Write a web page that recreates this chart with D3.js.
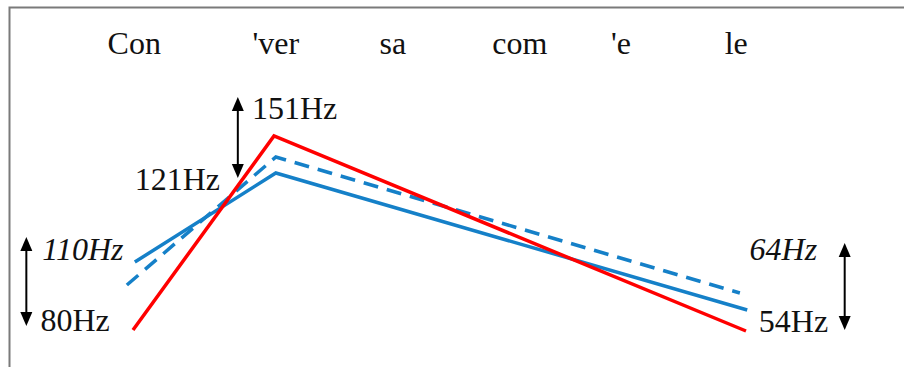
<!DOCTYPE html>
<html>
<head>
<meta charset="utf-8">
<script src="https://cdn.jsdelivr.net/npm/d3@7"></script>
<style>
  html, body { margin: 0; padding: 0; background: #fff; }
  svg { display: block; }
  text { font-family: "Liberation Serif", "Times New Roman", serif; fill: #111; }
</style>
</head>
<body>
<svg id="chart" width="904" height="367"></svg>
<script>
// Syllables of "Con'versa com'e le" and their time position (normalised 0–100)
const syllables = ["Con", "'ver", "sa", "com", "'e", "le"];
const syllableTimes = [0.2, 23.3, 42.4, 63.1, 79.6, 98.4];

// Pitch contours: time points and relative pitch level (schematic units)
const redTimes = [0, 23, 100];
const redLevels = [10, 204, 9];
const blueTimes = [0.3, 23.3, 100.2];
const blueLevels = [78, 167, 30];
const dashedTimes = [-1, 23.3, 99];
const dashedLevels = [55, 183, 47];

// Range annotations (double arrows) in the same time/level units
const arrowTimes = [-17.4, 17.1, 116.1];
const arrowTops = [103, 243, 97];
const arrowBottoms = [14, 162, 10];

// Frequency labels
const labelTexts = ["110Hz", "80Hz", "151Hz", "121Hz", "64Hz", "54Hz"];
const labelTimes = [-14.8, -15.1, 19.4, 14.2, 111.6, 102.1];
const labelLevels = [80, 9, 221, 150, 80, 8];
const labelAnchors = ["start", "start", "start", "end", "end", "start"];
const labelItalic = [true, false, false, false, true, false];

const svg = d3.select("#chart");

const x = d3.scaleLinear().domain([0, 100]).range([133, 746]);
const y = d3.scaleLinear().domain([0, 240]).range([340, 100]);

// Frame (top and left edges)
svg.append("path")
  .attr("d", "M9.5,367 L9.5,7.5 L904,7.5")
  .attr("fill", "none")
  .attr("stroke", "#7a7a7a")
  .attr("stroke-width", 2);

// Syllable row
svg.append("g").selectAll("text")
  .data(syllables)
  .join("text")
  .attr("x", (d, i) => x(syllableTimes[i]))
  .attr("y", 54)
  .attr("text-anchor", "middle")
  .attr("font-size", 32)
  .text(d => d);

// Contours
const line = d3.line().x(d => x(d[0])).y(d => y(d[1]));
const series = [
  { t: dashedTimes, v: dashedLevels, color: "#1580c8", dash: "15,9" },
  { t: blueTimes, v: blueLevels, color: "#1580c8", dash: null },
  { t: redTimes, v: redLevels, color: "#ff0000", dash: null }
];
svg.append("g").selectAll("path")
  .data(series)
  .join("path")
  .attr("d", s => line(d3.zip(s.t, s.v)))
  .attr("fill", "none")
  .attr("stroke", s => s.color)
  .attr("stroke-width", 3.5)
  .attr("stroke-dasharray", s => s.dash);

// Double-headed arrows
const arrows = svg.append("g");
arrowTimes.forEach((t, i) => {
  const ax = x(t), y1 = y(arrowTops[i]), y2 = y(arrowBottoms[i]);
  const hw = 6, hh = 14;
  arrows.append("line")
    .attr("x1", ax).attr("x2", ax)
    .attr("y1", y1 + hh - 2).attr("y2", y2 - hh + 2)
    .attr("stroke", "#000").attr("stroke-width", 2);
  arrows.append("path")
    .attr("d", `M${ax},${y1} L${ax - hw},${y1 + hh} L${ax + hw},${y1 + hh} Z`)
    .attr("fill", "#000");
  arrows.append("path")
    .attr("d", `M${ax},${y2} L${ax - hw},${y2 - hh} L${ax + hw},${y2 - hh} Z`)
    .attr("fill", "#000");
});

// Frequency labels
svg.append("g").selectAll("text")
  .data(labelTexts)
  .join("text")
  .attr("x", (d, i) => x(labelTimes[i]))
  .attr("y", (d, i) => y(labelLevels[i]))
  .attr("text-anchor", (d, i) => labelAnchors[i])
  .attr("font-style", (d, i) => labelItalic[i] ? "italic" : "normal")
  .attr("font-size", 32)
  .text(d => d);
</script>
</body>
</html>
